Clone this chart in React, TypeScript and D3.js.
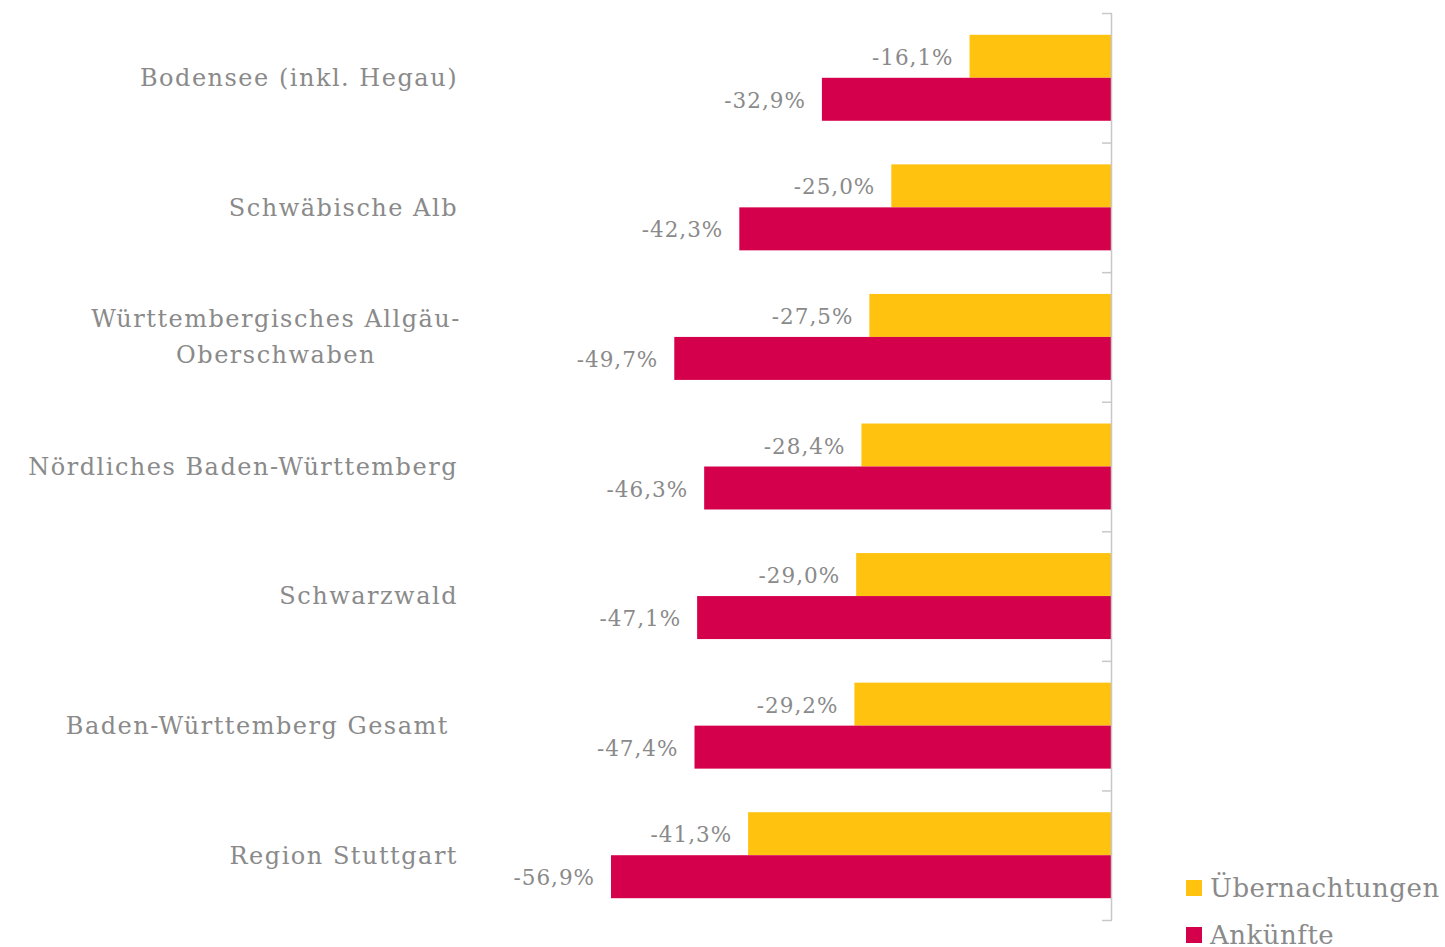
import React from "react";
import * as d3 from "d3";

const categories = [
  ["Bodensee (inkl. Hegau)"],
  ["Schwäbische Alb"],
  ["Württembergisches Allgäu-", "Oberschwaben"],
  ["Nördliches Baden-Württemberg"],
  ["Schwarzwald"],
  ["Baden-Württemberg Gesamt "],
  ["Region Stuttgart"],
];
const uebernachtungen = [-16.1, -25.0, -27.5, -28.4, -29.0, -29.2, -41.3];
const ankuenfte = [-32.9, -42.3, -49.7, -46.3, -47.1, -47.4, -56.9];
const seriesNames = ["Übernachtungen", "Ankünfte"];
const colors = ["#FFC20E", "#D5004B"];

const W = 1445;
const H = 947;
const FONT = "'DejaVu Serif', serif";
const GREY = "#8a8a8a";

export default function App() {
  const x = d3.scaleLinear().domain([-60, 0]).range([1111 - 60 * 8.787, 1111]);
  const y = d3
    .scaleBand<number>()
    .domain(d3.range(categories.length))
    .range([13, 920])
    .paddingInner(43.6 / 129.6)
    .paddingOuter((43.6 / 129.6) / 2);
  const bandStep = y.step();
  const barH = y.bandwidth() / 2;
  const fmt = (v: number) => v.toFixed(1).replace(".", ",") + "%";
  const ticks = d3.range(categories.length + 1).map((i) => 13 + i * bandStep);

  return (
    <svg width={W} height={H} style={{ position: "absolute", left: 0, top: 0 }}>
      <rect width={W} height={H} fill="#fff" />
      {categories.map((lines, i) => {
        const yc = 13 + i * bandStep + bandStep / 2;
        const u = uebernachtungen[i];
        const a = ankuenfte[i];
        const y0 = y(i)!;
        return (
          <g key={i}>
            <rect x={x(u)} y={y0} width={x(0) - x(u)} height={barH} fill={colors[0]} />
            <rect x={x(a)} y={y0 + barH} width={x(0) - x(a)} height={barH} fill={colors[1]} />
            <text x={x(u) - 16} y={y0 + barH / 2 + 1} dy="0.35em" textAnchor="end" fontFamily={FONT} fontSize={21.5} letterSpacing={1} fill={GREY}>
              {fmt(u)}
            </text>
            <text x={x(a) - 16} y={y0 + barH * 1.5 + 1} dy="0.35em" textAnchor="end" fontFamily={FONT} fontSize={21.5} letterSpacing={1} fill={GREY}>
              {fmt(a)}
            </text>
            {lines.length === 1 ? (
              <text x={458} y={yc} dy="0.35em" textAnchor="end" fontFamily={FONT} fontSize={24} letterSpacing={1.5} fill={GREY} style={{ whiteSpace: "pre" }}>
                {lines[0]}
              </text>
            ) : (
              lines.map((l, k) => (
                <text key={k} x={276} y={yc + (k - (lines.length - 1) / 2) * 36} dy="0.35em" textAnchor="middle" fontFamily={FONT} fontSize={24} letterSpacing={1.5} fill={GREY}>
                  {l}
                </text>
              ))
            )}
          </g>
        );
      })}
      <line x1={1111.5} x2={1111.5} y1={13} y2={920} stroke="#c8c8c8" strokeWidth={1.5} />
      {ticks.map((t, i) => (
        <line key={i} x1={1102} x2={1112} y1={t + 0.5} y2={t + 0.5} stroke="#c8c8c8" strokeWidth={1.5} />
      ))}
      {seriesNames.map((s, i) => (
        <g key={s}>
          <rect x={1186} y={880 + i * 47} width={16} height={16} fill={colors[i]} />
          <text x={1210} y={888 + i * 47} dy="0.35em" fontFamily={FONT} fontSize={26} letterSpacing={0.5} fill={GREY}>
            {s}
          </text>
        </g>
      ))}
    </svg>
  );
}
